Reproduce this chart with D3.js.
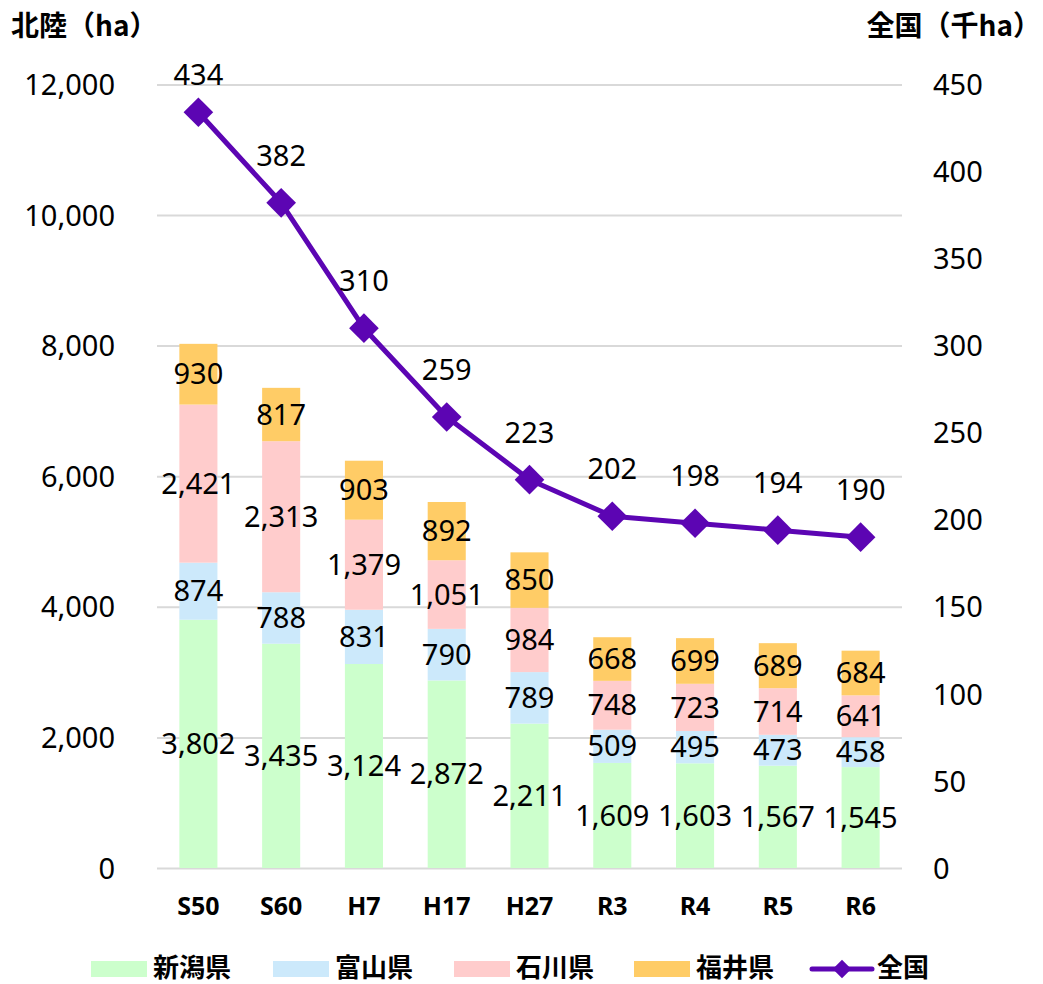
<!DOCTYPE html>
<html><head><meta charset="utf-8">
<script src="https://cdn.jsdelivr.net/npm/d3@7"></script>
<style>
html,body{margin:0;padding:0;background:#fff;}
svg{display:block;}
.cjk{font-family:"Noto Sans CJK JP","Noto Sans",sans-serif;font-weight:700;}
.num{font-family:"Noto Sans","Open Sans",sans-serif;}
</style></head>
<body>
<svg id="chart" width="1043" height="984"></svg>
<script>
const categories = ["S50","S60","H7","H17","H27","R3","R4","R5","R6"];
const niigata  = [3802,3435,3124,2872,2211,1609,1603,1567,1545];
const toyama   = [874,788,831,790,789,509,495,473,458];
const ishikawa = [2421,2313,1379,1051,984,748,723,714,641];
const fukui    = [930,817,903,892,850,668,699,689,684];
const national = [434,382,310,259,223,202,198,194,190];
const leftTicks  = [0,2000,4000,6000,8000,10000,12000];
const rightTicks = [0,50,100,150,200,250,300,350,400,450];
const seriesNames = ["新潟県","富山県","石川県","福井県"];
const lineName = "全国";
const leftTitle = "北陸（ha）";
const rightTitle = "全国（千ha）";

const colors = ["#ccffcc","#cce9fb","#ffcccc","#ffcc66"];
const lineColor = "#5c05b3";

const svg = d3.select("#chart");
const x = d3.scaleBand().domain(categories).range([157,902]).paddingInner(0.54).paddingOuter(0.27);
const yL = d3.scaleLinear().domain([0,12000]).range([868,84.4]);
const yR = d3.scaleLinear().domain([0,450]).range([868,84.4]);

// gridlines
const grid = svg.append("g").attr("transform","translate(157,0)")
  .call(d3.axisRight(yL).tickValues(leftTicks).tickSize(745).tickFormat(""));
grid.select(".domain").remove();
grid.selectAll("line").attr("stroke","#d9d9d9").attr("stroke-width",2);

// left axis
const la = svg.append("g").attr("transform","translate(115,0)")
  .call(d3.axisLeft(yL).tickValues(leftTicks).tickSize(0).tickPadding(0).tickFormat(d3.format(",")));
la.select(".domain").remove();
la.selectAll("text").attr("class","num").attr("font-size",29).attr("fill","#000").attr("dy","0.35em");

// right axis
const ra = svg.append("g").attr("transform","translate(933,0)")
  .call(d3.axisRight(yR).tickValues(rightTicks).tickSize(0).tickPadding(0));
ra.select(".domain").remove();
ra.selectAll("text").attr("class","num").attr("font-size",29).attr("fill","#000").attr("dy","0.35em");

// x labels
const xa = svg.append("g").attr("transform","translate(0,868)")
  .call(d3.axisBottom(x).tickSize(0).tickPadding(0));
xa.select(".domain").remove();
xa.selectAll("text").attr("class","num").attr("font-size",25).attr("font-weight",700)
  .attr("fill","#000").attr("dy",null).attr("y",47);

// stacked data
const rows = categories.map((c,i)=>({cat:c, s0:niigata[i], s1:toyama[i], s2:ishikawa[i], s3:fukui[i]}));
const stack = d3.stack().keys(["s0","s1","s2","s3"])(rows);

const fmt = d3.format(",");
stack.forEach((layer,li)=>{
  const g = svg.append("g");
  g.selectAll("rect").data(layer).join("rect")
    .attr("x",d=>x(d.data.cat)).attr("width",x.bandwidth())
    .attr("y",d=>yL(d[1])).attr("height",d=>yL(d[0])-yL(d[1]))
    .attr("fill",colors[li]);
});
stack.forEach((layer,li)=>{
  svg.append("g").selectAll("text").data(layer).join("text")
    .attr("class","num").attr("font-size",29).attr("fill","#000")
    .attr("text-anchor","middle")
    .attr("x",d=>x(d.data.cat)+x.bandwidth()/2)
    .attr("y",d=>(yL(d[0])+yL(d[1]))/2).attr("dy","0.35em")
    .text(d=>fmt(d[1]-d[0]));
});

// line
const cx = c=>x(c)+x.bandwidth()/2;
const pts = categories.map((c,i)=>({c, v:national[i]}));
svg.append("path").datum(pts)
  .attr("d",d3.line().x(d=>cx(d.c)).y(d=>yR(d.v)))
  .attr("fill","none").attr("stroke",lineColor).attr("stroke-width",5).attr("stroke-linejoin","round");
const diamond = d3.symbol().type(d3.symbolSquare).size(440);
svg.append("g").selectAll("path").data(pts).join("path")
  .attr("d",diamond)
  .attr("transform",d=>`translate(${cx(d.c)},${yR(d.v)}) rotate(45)`)
  .attr("fill",lineColor);
svg.append("g").selectAll("text").data(pts).join("text")
  .attr("class","num").attr("font-size",29).attr("fill","#000").attr("text-anchor","middle")
  .attr("x",d=>cx(d.c)).attr("y",d=>Math.max(yR(d.v)-37,85))
  .text(d=>d.v);

// titles
svg.append("text").attr("class","cjk").attr("font-size",28).attr("x",11).attr("y",36).text(leftTitle);
svg.append("text").attr("class","cjk").attr("font-size",28).attr("x",1041).attr("y",36)
  .attr("text-anchor","end").text(rightTitle);

// legend
const legX = [91,273,454,634];
seriesNames.forEach((n,i)=>{
  svg.append("rect").attr("x",legX[i]).attr("y",961).attr("width",56).attr("height",16).attr("fill",colors[i]);
  svg.append("text").attr("class","cjk").attr("font-size",26).attr("x",legX[i]+62).attr("y",977).text(n);
});
svg.append("line").attr("x1",812).attr("x2",872).attr("y1",969).attr("y2",969)
  .attr("stroke",lineColor).attr("stroke-width",5).attr("stroke-linecap","round");
svg.append("path").attr("d",d3.symbol().type(d3.symbolSquare).size(170))
  .attr("transform","translate(842,969) rotate(45)").attr("fill",lineColor);
svg.append("text").attr("class","cjk").attr("font-size",26).attr("x",877).attr("y",977).text(lineName);
</script>
</body></html>
